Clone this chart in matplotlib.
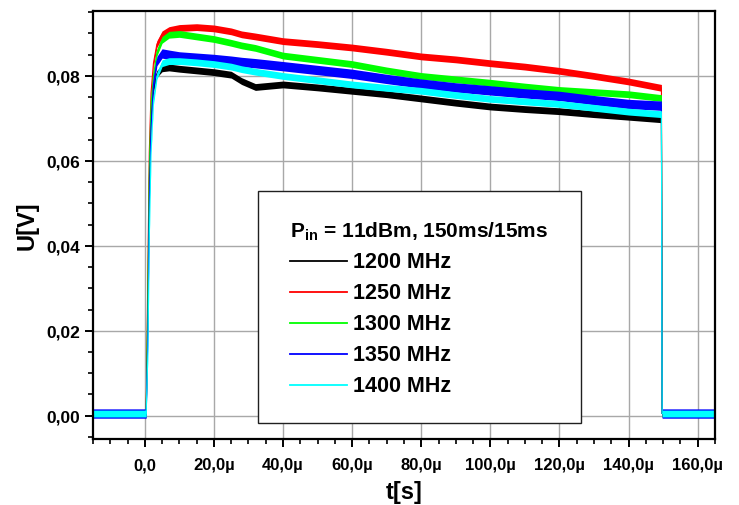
import matplotlib
matplotlib.use("Agg")
import matplotlib.pyplot as plt
from matplotlib.ticker import MultipleLocator, FuncFormatter
from matplotlib.patches import Rectangle
import numpy as np

plt.rcParams['font.family'] = ['Liberation Sans', 'DejaVu Sans']
plt.rcParams['font.weight'] = 'bold'

# time knots in microseconds, shared by all traces
t_us = [-15, 0.4, 0.9, 1.3, 1.8, 2.5, 3.5, 5, 7, 10, 15, 20, 25, 28, 32, 40,
        50, 60, 70, 80, 90, 100, 110, 120, 130, 140, 149.5, 149.7, 165]

u_1200 = [0.0005, 0.0005, 0.025, 0.055, 0.070, 0.077, 0.0805, 0.0818, 0.0820,
          0.0817, 0.0813, 0.0809, 0.0803, 0.0788, 0.0774, 0.0780, 0.0773,
          0.0765, 0.0757, 0.0747, 0.0737, 0.0728, 0.0722, 0.0717, 0.0710,
          0.0704, 0.0698, 0.0005, 0.0005]
u_1250 = [0.0005, 0.0005, 0.035, 0.062, 0.076, 0.083, 0.0875, 0.0898, 0.0908,
          0.0913, 0.0915, 0.0912, 0.0905, 0.0898, 0.0893, 0.0882, 0.0875,
          0.0867, 0.0857, 0.0846, 0.0839, 0.0830, 0.0822, 0.0812, 0.0800,
          0.0787, 0.0772, 0.0005, 0.0005]
u_1300 = [0.0005, 0.0005, 0.030, 0.058, 0.073, 0.080, 0.0855, 0.0885, 0.0897,
          0.0899, 0.0893, 0.0887, 0.0878, 0.0872, 0.0866, 0.0848, 0.0838,
          0.0828, 0.0813, 0.0800, 0.0792, 0.0784, 0.0775, 0.0767, 0.0762,
          0.0757, 0.0748, 0.0005, 0.0005]
u_1350 = [0.0005, 0.0005, 0.020, 0.050, 0.068, 0.078, 0.0835, 0.0853, 0.0850,
          0.0846, 0.0843, 0.0840, 0.0836, 0.0833, 0.0830, 0.0823, 0.0814,
          0.0805, 0.0793, 0.0782, 0.0773, 0.0766, 0.0759, 0.0753, 0.0743,
          0.0734, 0.0730, 0.0005, 0.0005]
u_1400 = [0.0005, 0.0005, 0.015, 0.042, 0.062, 0.074, 0.0800, 0.0830, 0.0835,
          0.0835, 0.0832, 0.0828, 0.0822, 0.0816, 0.0810, 0.0800, 0.0790,
          0.0780, 0.0772, 0.0765, 0.0755, 0.0746, 0.0740, 0.0734, 0.0725,
          0.0716, 0.0710, 0.0005, 0.0005]

labels = ['1200 MHz', '1250 MHz', '1300 MHz', '1350 MHz', '1400 MHz']
series = [u_1200, u_1250, u_1300, u_1350, u_1400]
colors = ['#000000', '#ff0000', '#00ff00', '#0000ff', '#00ffff']
noise = [0.0008, 0.0008, 0.0008, 0.0011, 0.0008]  # half width of the noise band

fig = plt.figure(figsize=(7.39, 5.06), dpi=100)
ax = fig.add_axes([0.1258, 0.1304, 0.9675 - 0.1258, 0.9763 - 0.1304])

t = np.array(t_us) * 1e-6
for y, c, hw in zip(series, colors, noise):
    y = np.array(y)
    ax.fill_between(t, y - hw, y + hw, color=c, lw=0, zorder=3)
    ax.plot(t, y, color=c, lw=0.8, zorder=3)

ax.set_xlim(-15e-6, 165e-6)
ax.set_ylim(-0.0055, 0.0953)

ax.xaxis.set_major_locator(MultipleLocator(20e-6))
ax.xaxis.set_minor_locator(MultipleLocator(5e-6))
ax.yaxis.set_major_locator(MultipleLocator(0.02))
ax.yaxis.set_minor_locator(MultipleLocator(0.005))


def fmt_x(v, pos):
    us = round(v * 1e6, 3)
    if abs(us) < 1e-9:
        return '0,0'
    if us < 0:
        return ''
    return ('%.1f' % us).replace('.', ',') + 'µ'


ax.xaxis.set_major_formatter(FuncFormatter(fmt_x))
ax.yaxis.set_major_formatter(FuncFormatter(lambda v, p: ('%.2f' % v).replace('.', ',')))

ax.grid(True, which='major', color='#a8a8a8', lw=1.0, zorder=1)
ax.set_axisbelow(True)
for s in ax.spines.values():
    s.set_linewidth(1.6)
    s.set_zorder(5)
ax.tick_params(which='major', direction='out', length=6, width=1.4, pad=3)
ax.tick_params(which='minor', direction='out', length=3.5, width=1.2)
ax.tick_params(axis='x', labelsize=12, pad=7)
ax.tick_params(axis='y', labelsize=12.5)

ax.set_xlabel('t[s]', fontsize=17, fontweight='bold', labelpad=6)
ax.set_ylabel('U[V]', fontsize=17, fontweight='bold', labelpad=6)

# legend box (fixed size, contents left aligned)
ax_l, ax_b = 93.0, 440.0
ax_w, ax_h = 715.0 - 93.0, 440.0 - 12.0


def to_ax(px, py):
    return (px - ax_l) / ax_w, (ax_b - py) / ax_h


x0, y0 = to_ax(258, 424)
x1, y1 = to_ax(581, 192)
ax.add_patch(Rectangle((x0, y0), x1 - x0, y1 - y0, transform=ax.transAxes,
                       facecolor='white', edgecolor='#202020', lw=1.0, zorder=6))
tx, ty = to_ax(290, 232)
ax.text(tx, ty, 'P$_{\\mathregular{in}}$ = 11dBm, 150ms/15ms', transform=ax.transAxes,
        fontsize=15, fontweight='bold', va='center', ha='left', zorder=7)
rows = [262, 293, 324, 355, 386]
for lab, c, py in zip(labels, colors, rows):
    hx0, hy = to_ax(290, py)
    hx1, _ = to_ax(347, py)
    ax.plot([hx0, hx1], [hy, hy], color=c, lw=1.3, transform=ax.transAxes, zorder=7)
    lx, _ = to_ax(353, py)
    ax.text(lx, hy, lab, transform=ax.transAxes, fontsize=15.5, fontweight='bold',
            va='center', ha='left', zorder=7)

fig.savefig('out.png', dpi=100)
